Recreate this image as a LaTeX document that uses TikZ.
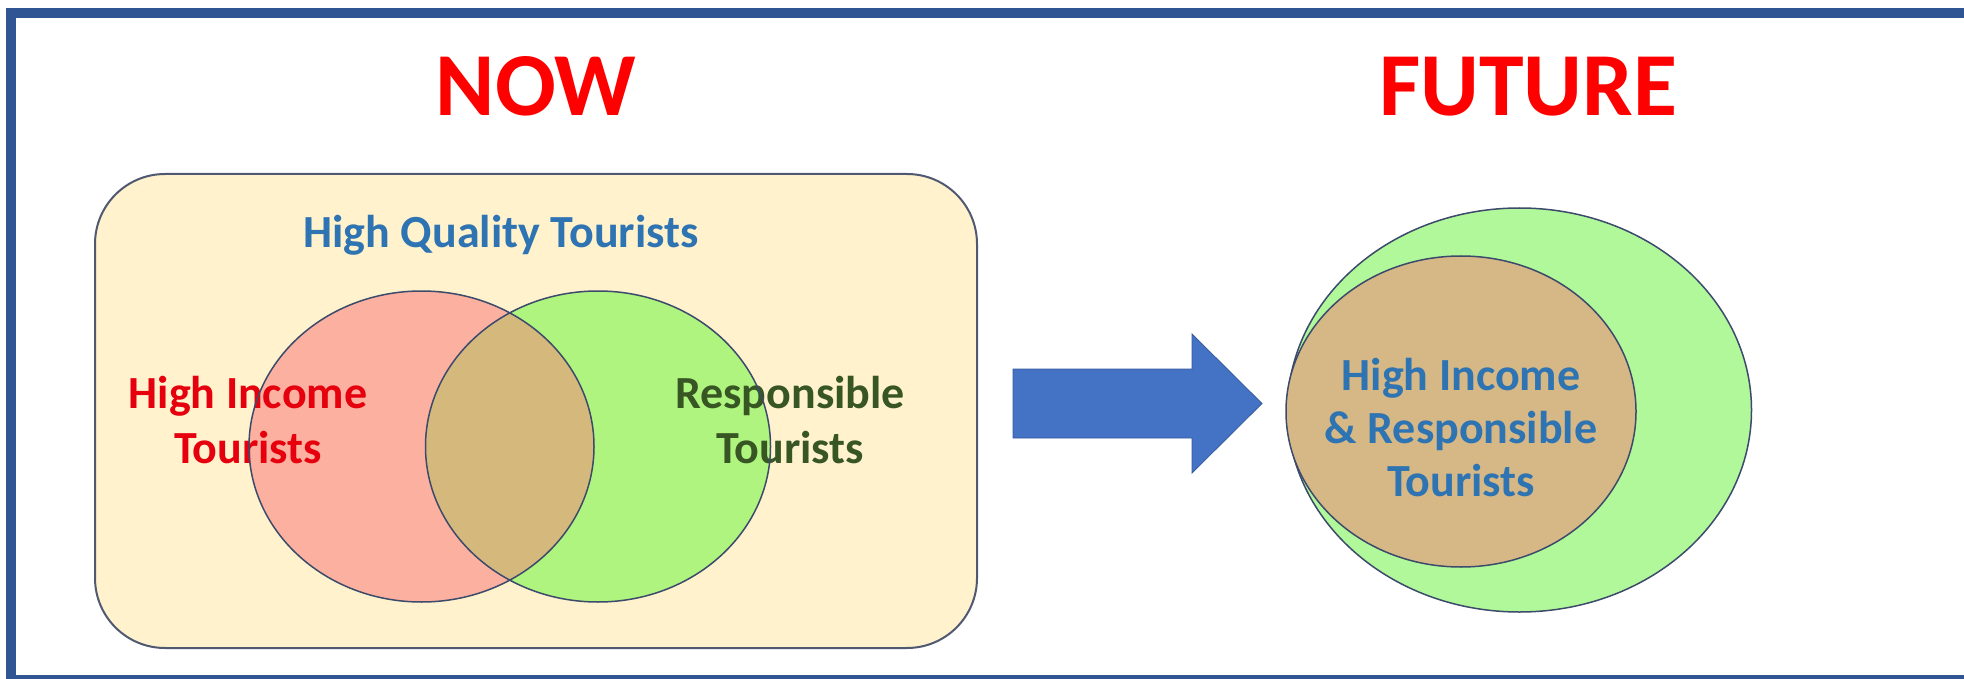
\documentclass[tikz,border=0pt]{standalone}
\usepackage{fontspec}
\setmainfont{Carlito}
\usetikzlibrary{shapes.geometric}
\definecolor{frameblue}{HTML}{2F5592}
\definecolor{titlered}{HTML}{FF0000}
\definecolor{txtblue}{HTML}{2E73B2}
\definecolor{txtred}{HTML}{E6000E}
\definecolor{txtgreen}{HTML}{375623}
\definecolor{cream}{HTML}{FFF2CC}
\definecolor{salmon}{HTML}{FBB0A0}
\definecolor{vgreen}{HTML}{AEF47E}
\definecolor{fgreen}{HTML}{B1F89A}
\definecolor{tan}{HTML}{D5B87C}
\definecolor{ftan}{HTML}{D6B886}
\definecolor{outl}{HTML}{3C4A6B}
\definecolor{panelline}{HTML}{4F5A72}
\definecolor{arrowblue}{HTML}{4472C4}
\tikzset{
  title/.style={font=\bfseries\fontsize{45}{54}\selectfont, text=titlered, inner sep=0, anchor=base},
  lbl/.style={font=\bfseries\fontsize{23}{27}\selectfont, inner sep=0, anchor=base},
  oval/.style={ellipse, inner sep=0, draw=outl, line width=0.75pt},
}
\begin{document}
\begin{tikzpicture}[x=0.5pt,y=-0.5pt]
\useasboundingbox (0,0) rectangle (1964,679);
\fill[white] (0,0) rectangle (1964,679);
% frame
\draw[frameblue, line width=5pt] (1980,13) -- (10.5,13) -- (10.5,679.5) -- (1980,679.5);
% titles
\node[title] (now) at (536,116) {NOW};
\node[title] (future) at (1528,116) {FUTURE};
% NOW panel
\node[draw=panelline, line width=1pt, fill=cream, rounded corners=35pt, minimum width=441pt, minimum height=237pt, inner sep=0] (panel) at (536,411) {};
\node[lbl, text=txtblue] (hq) at (501,248) {High Quality Tourists};
% Venn fills
\fill[salmon] (421.5,446.5) ellipse [x radius=86.25pt, y radius=77.75pt];
\fill[vgreen] (598,446.5) ellipse [x radius=86.25pt, y radius=77.75pt];
\begin{scope}
\clip (421.5,446.5) ellipse [x radius=86.25pt, y radius=77.75pt];
\fill[tan] (598,446.5) ellipse [x radius=86.25pt, y radius=77.75pt];
\end{scope}
\node[lbl, text=txtred] (hi1) at (248,408) {High Income};
\node[lbl, text=txtred] (hi2) at (248,463) {Tourists};
\node[lbl, text=txtgreen] (rs1) at (790,408) {Responsible};
\node[lbl, text=txtgreen] (rs2) at (790,463) {Tourists};
\node[oval, minimum width=172.5pt, minimum height=155.5pt] (red) at (421.5,446.5) {};
\node[oval, minimum width=172.5pt, minimum height=155.5pt] (green) at (598,446.5) {};
% arrow
\coordinate (a1) at (1013,369);
\coordinate (a2) at (1192,369);
\coordinate (a3) at (1192,334);
\coordinate (tip) at (1262,403.5);
\coordinate (a5) at (1192,473);
\coordinate (a6) at (1192,438);
\coordinate (a7) at (1013,438);
\fill[arrowblue, draw=arrowblue!80!black, line width=0.4pt] (a1) -- (a2) -- (a3) -- (tip) -- (a5) -- (a6) -- (a7) -- cycle;
% FUTURE
\node[oval, fill=fgreen, minimum width=232pt, minimum height=202pt] (outer) at (1519.5,410) {};
\node[oval, fill=ftan, minimum width=175pt, minimum height=155.5pt] (inner) at (1461,411.5) {};
\node[lbl, text=txtblue] (f1) at (1461,390) {High Income};
\node[lbl, text=txtblue] (f2) at (1461,443) {\& Responsible};
\node[lbl, text=txtblue] (f3) at (1461,496) {Tourists};
\end{tikzpicture}
\end{document}
